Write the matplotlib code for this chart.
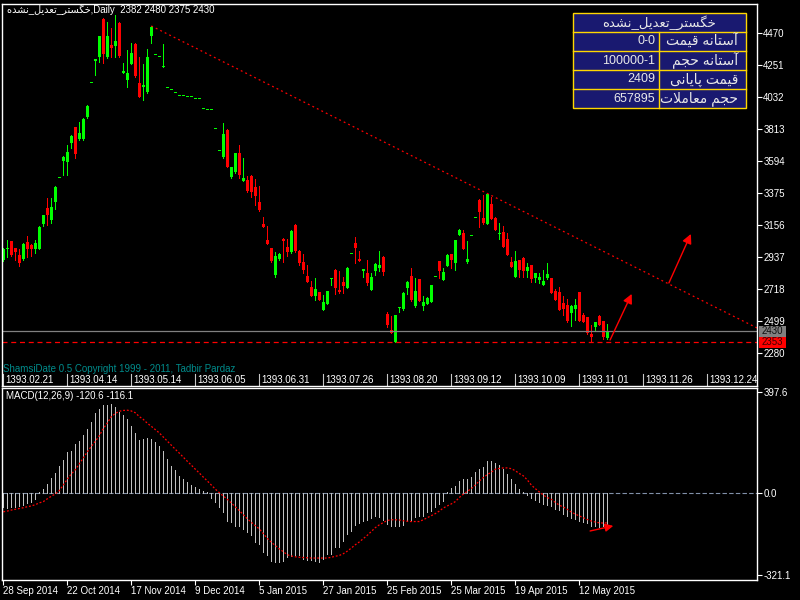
import matplotlib
matplotlib.use('Agg')
import matplotlib.pyplot as plt
from matplotlib.patches import Rectangle
from matplotlib.transforms import blended_transform_factory
import numpy as np

plt.rcParams['font.family'] = ['Liberation Sans', 'DejaVu Sans']

# ---- data ----
symbol = 'خگستر_تعدیل_نشده'
title_ohlc = '2382 2480 2375 2430'

opens = [2917, 2990, 3047, 2999, 2952, 2925, 3040, 3020, 2993, 2993,
         3164, 3273, 3191, 3314, 3478, 3594, 3587, 3718, 3827, 3745,
         3745, 3896, 4128, 4275, 4306, 4566, 4306, 4388, 4381, 4538,
         4196, 4149, 4258, 4395, 4128, 4101, 4067, 4449, 4320, 4306,
         4238, 4094, 4080, 4060, 4039, 4039, 4032, 4032, 4019, 4019,
         3950, 3943, 3943, 3813, 3663, 3622, 3807, 3485, 3519, 3649,
         3458, 3465, 3492, 3417, 3314, 3164, 3054, 2999, 2815, 2925,
         3063, 3006, 2972, 3157, 2979, 2904, 2808, 2733, 2671, 2698,
         2575, 2617, 2785, 2849, 2712, 2767, 2726, 2958, 3034, 2924,
         2845, 2828, 2712, 2842, 2863, 2938, 2548, 2439, 2357, 2590,
         2582, 2726, 2808, 2603, 2787, 2603, 2617, 2630, 2801, 2910,
         2781, 2876, 2958, 2897, 3088, 3102, 2904, 3082, 3205, 3328,
         3205, 3164, 3300, 3205, 3095, 3109, 3061, 2904, 2801, 2917,
         2931, 2842, 2883, 2794, 2781, 2746, 2794, 2794, 2705, 2698,
         2623, 2610, 2555, 2582, 2698, 2541, 2527, 2411, 2459, 2534,
         2500, 2382]
highs = [3000, 3054, 3050, 3000, 2993, 3030, 3081, 3025, 3054, 3147,
         3228, 3341, 3341, 3420, 3478, 3625, 3704, 3770, 3830, 3861,
         3885, 3975, 4128, 4292, 4452, 4573, 4545, 4504, 4593, 4545,
         4265, 4354, 4402, 4400, 4306, 4258, 4361, 4518, 4320, 4306,
         4395, 4094, 4080, 4060, 4039, 4039, 4032, 4032, 4019, 4019,
         3950, 3943, 3943, 3813, 3663, 3854, 3810, 3556, 3652, 3704,
         3615, 3492, 3495, 3471, 3423, 3211, 3150, 3002, 2972, 2962,
         3065, 3061, 3119, 3160, 2982, 2958, 2883, 2774, 2794, 2700,
         2678, 2708, 2792, 2852, 2842, 2801, 2866, 2958, 3075, 2979,
         2854, 2917, 2828, 2893, 2979, 2941, 2562, 2534, 2544, 2598,
         2695, 2770, 2863, 2794, 2790, 2671, 2661, 2749, 2801, 2913,
         2863, 2955, 2961, 3057, 3129, 3123, 3047, 3082, 3205, 3331,
         3362, 3372, 3348, 3208, 3170, 3150, 3102, 2938, 2979, 2920,
         2934, 2897, 2886, 2831, 2828, 2849, 2897, 2797, 2719, 2733,
         2671, 2651, 2606, 2651, 2701, 2555, 2530, 2473, 2496, 2541,
         2503, 2480]
lows = [2910, 2938, 2945, 2917, 2876, 2920, 2938, 2945, 2965, 2990,
        3150, 3157, 3170, 3266, 3478, 3499, 3499, 3684, 3615, 3738,
        3740, 3890, 4128, 4183, 4272, 4265, 4300, 4306, 4306, 4306,
        4194, 4101, 4255, 4170, 4030, 4012, 4060, 4402, 4320, 4306,
        4235, 4094, 4080, 4060, 4039, 4039, 4032, 4032, 4019, 4019,
        3950, 3943, 3943, 3813, 3663, 3615, 3550, 3480, 3515, 3478,
        3455, 3385, 3348, 3294, 3255, 3140, 3024, 2905, 2801, 2917,
        2904, 2945, 2968, 2975, 2883, 2828, 2764, 2668, 2644, 2640,
        2572, 2614, 2746, 2685, 2692, 2692, 2722, 2958, 2897, 2908,
        2801, 2746, 2709, 2815, 2842, 2815, 2459, 2416, 2353, 2562,
        2578, 2685, 2637, 2596, 2634, 2575, 2614, 2627, 2801, 2794,
        2778, 2873, 2863, 2849, 3085, 2990, 2897, 3082, 3205, 3143,
        3164, 3160, 3195, 3120, 3061, 3003, 2948, 2866, 2798, 2801,
        2801, 2801, 2767, 2767, 2760, 2743, 2790, 2688, 2640, 2572,
        2541, 2493, 2466, 2507, 2497, 2490, 2414, 2353, 2439, 2470,
        2377, 2375]
closes = [2993, 3000, 2952, 2972, 2897, 3027, 2993, 2993, 3034, 3143,
          3225, 3225, 3280, 3417, 3478, 3622, 3656, 3766, 3642, 3786,
          3882, 3971, 4128, 4290, 4449, 4326, 4449, 4367, 4415, 4313,
          4210, 4197, 4333, 4176, 4032, 4114, 4306, 4511, 4320, 4306,
          4245, 4094, 4080, 4060, 4039, 4039, 4032, 4032, 4019, 4019,
          3950, 3943, 3943, 3813, 3663, 3779, 3553, 3553, 3649, 3499,
          3478, 3389, 3383, 3355, 3259, 3143, 3027, 2910, 2945, 2959,
          3050, 2972, 3116, 2979, 2897, 2849, 2767, 2671, 2719, 2644,
          2630, 2705, 2790, 2726, 2698, 2740, 2863, 2958, 2999, 2910,
          2852, 2760, 2801, 2890, 2883, 2835, 2473, 2418, 2541, 2596,
          2692, 2767, 2644, 2705, 2637, 2630, 2658, 2746, 2801, 2842,
          2835, 2952, 2917, 3054, 3123, 2993, 2924, 3082, 3205, 3246,
          3170, 3369, 3198, 3123, 3102, 3006, 2952, 2870, 2910, 2849,
          2842, 2870, 2787, 2828, 2801, 2774, 2822, 2692, 2644, 2575,
          2582, 2500, 2603, 2610, 2500, 2493, 2418, 2391, 2493, 2473,
          2391, 2430]

macd_hist = [-56, -58, -56, -53, -52, -47, -40, -36, -23, 5,
             18, 35, 61, 81, 107, 129, 161, 165, 191, 204,
             226, 250, 278, 315, 328, 347, 347, 351, 338, 319,
             308, 291, 265, 237, 208, 211, 217, 211, 200, 185,
             165, 133, 107, 91, 68, 55, 44, 31, 26, 16,
             8, 3, -17, -36, -56, -73, -108, -114, -127, -127,
             -140, -153, -162, -192, -199, -229, -244, -264, -270, -268,
             -265, -251, -247, -244, -244, -257, -261, -261, -264, -268,
             -257, -240, -238, -212, -212, -186, -160, -147, -125, -117,
             -108, -104, -99, -88, -95, -104, -121, -127, -127, -127,
             -124, -108, -104, -95, -88, -88, -75, -69, -56, -43,
             -30, 3, 22, 29, 48, 57, 55, 64, 83, 96,
             103, 126, 126, 117, 109, 94, 74, 55, 35, 16,
             5, -8, -20, -26, -34, -43, -47, -52, -62, -66,
             -82, -88, -99, -101, -108, -112, -117, -130, -127, -134,
             -130, -120.6]
macd_signal = [-73, -70, -66, -63, -60, -57, -53, -50, -45, -38,
               -33, -22, -12, -3, 10, 32, 55, 75, 92, 115,
               138, 162, 183, 203, 225, 253, 275, 300, 312, 321,
               324, 325, 322, 315, 300, 289, 274, 262, 249, 236,
               220, 204, 188, 172, 157, 141, 125, 110, 94, 79,
               63, 48, 32, 16, 2, -11, -24, -38, -53, -68,
               -84, -100, -114, -127, -140, -158, -177, -192, -205, -218,
               -229, -241, -246, -249, -251, -252, -253, -254, -254, -254,
               -254, -254, -251, -247, -244, -237, -227, -215, -202, -191,
               -178, -165, -150, -135, -124, -115, -107, -104, -104, -105,
               -108, -110, -111, -111, -111, -104, -96, -88, -80, -70,
               -58, -50, -42, -33, -17, -4, 7, 18, 32, 48,
               61, 73, 82, 94, 97, 99, 99, 96, 88, 77,
               68, 52, 32, 18, 5, -7, -17, -24, -36, -47,
               -54, -63, -74, -82, -89, -96, -103, -109, -113, -116,
               -117, -116.1]

price_ticks = [4470, 4251, 4032, 3813, 3594, 3375, 3156, 2937, 2718, 2499, 2280]
macd_ticks = [397.6, 0.0, -321.1]
bid_price = 2430
support_price = 2353
trend_x = [37, 121]
trend_y = [4518, 3372]
arrows_price = [((151.7, 2370), (157.1, 2685)), ((166.4, 2760), (171.9, 3095))]
arrow_macd = ((146.7, -148), (152.5, -128))

shamsi_labels = ['1393.02.21', '1393.04.14', '1393.05.14', '1393.06.05', '1393.06.31',
                 '1393.07.26', '1393.08.20', '1393.09.12', '1393.10.09', '1393.11.01',
                 '1393.11.26', '1393.12.24']
date_labels = ['28 Sep 2014', '22 Oct 2014', '17 Nov 2014', '9 Dec 2014', '5 Jan 2015',
               '27 Jan 2015', '25 Feb 2015', '25 Mar 2015', '19 Apr 2015', '12 May 2015']
label_step = 16

table_labels = ['آستانه قیمت', 'آستانه حجم', 'قیمت پایانی', 'حجم معاملات']
table_values = ['0-0', '100000-1', '2409', '657895']

# ---- minimal Persian shaping (contextual forms + right-to-left order) ----
FORMS = {
    'ا': (0xFE8D, 0xFE8E, None, None), 'آ': (0xFE81, 0xFE82, None, None),
    'د': (0xFEA9, 0xFEAA, None, None), 'ر': (0xFEAD, 0xFEAE, None, None),
    'پ': (0xFB56, 0xFB57, 0xFB58, 0xFB59), 'ت': (0xFE95, 0xFE96, 0xFE97, 0xFE98),
    'ج': (0xFE9D, 0xFE9E, 0xFE9F, 0xFEA0), 'ح': (0xFEA1, 0xFEA2, 0xFEA3, 0xFEA4),
    'خ': (0xFEA5, 0xFEA6, 0xFEA7, 0xFEA8), 'س': (0xFEB1, 0xFEB2, 0xFEB3, 0xFEB4),
    'ش': (0xFEB5, 0xFEB6, 0xFEB7, 0xFEB8), 'ع': (0xFEC9, 0xFECA, 0xFECB, 0xFECC),
    'ق': (0xFED5, 0xFED6, 0xFED7, 0xFED8), 'گ': (0xFB92, 0xFB93, 0xFB94, 0xFB95),
    'ل': (0xFEDD, 0xFEDE, 0xFEDF, 0xFEE0), 'م': (0xFEE1, 0xFEE2, 0xFEE3, 0xFEE4),
    'ن': (0xFEE5, 0xFEE6, 0xFEE7, 0xFEE8), 'ه': (0xFEE9, 0xFEEA, 0xFEEB, 0xFEEC),
    'ی': (0xFBFC, 0xFBFD, 0xFBFE, 0xFBFF),
}
LAM_ALEF = {'ا': (0xFEFB, 0xFEFC), 'آ': (0xFEF5, 0xFEF6)}


def shape(text):
    out = []
    k = 0
    while k < len(text):
        c = text[k]
        prev = text[k - 1] if k > 0 else ''
        nxt = text[k + 1] if k + 1 < len(text) else ''
        if c not in FORMS:
            out.append(c)
            k += 1
            continue
        con_prev = prev in FORMS and FORMS[prev][2] is not None
        if c == 'ل' and nxt in LAM_ALEF:
            out.append(chr(LAM_ALEF[nxt][1] if con_prev else LAM_ALEF[nxt][0]))
            k += 2
            continue
        iso, fin, ini, med = FORMS[c]
        con_next = ini is not None and nxt in FORMS
        if con_prev and con_next:
            g = med
        elif con_prev:
            g = fin
        elif con_next:
            g = ini
        else:
            g = iso
        out.append(chr(g))
        k += 1
    return ''.join(reversed(out))


def fpos(x, y):
    # pixel position (from top-left) -> figure fraction
    return x / 800, 1 - y / 600


# ---- figure ----
W, H = 800, 600
fig = plt.figure(figsize=(8, 6), dpi=100, facecolor='black')
ax1 = fig.add_axes([2 / W, 1 - 386 / H, 755 / W, 382 / H], facecolor='black')
ax2 = fig.add_axes([2 / W, 1 - 580 / H, 755 / W, 192 / H], facecolor='black')

n = len(closes)
x = np.arange(n)
o = np.array(opens, float)
h = np.array(highs, float)
l = np.array(lows, float)
c = np.array(closes, float)
up = c >= o
cols = np.where(up, '#00ff00', '#ff0000')

xmin, xmax = -0.325, 188.425
for ax in (ax1, ax2):
    ax.set_xlim(xmin, xmax)
    for s in ax.spines.values():
        s.set_color('white')
        s.set_linewidth(1)
ax1.set_ylim(2055, 4668)
ax2.set_ylim(-340, 412)

# candles
ax1.vlines(x, l, h, colors=cols, linewidth=0.6, antialiased=False)
body_low = np.minimum(o, c)
body_h = np.maximum(np.abs(c - o), 6)
ax1.bar(x, body_h, bottom=body_low, width=0.72, color=cols, linewidth=0, antialiased=False)

# horizontal levels
ax1.axhline(bid_price, color='#808080', linewidth=0.9)
ax1.axhline(support_price, color='#ff0000', linewidth=0.9, linestyle=(0, (4, 3)))

# trend line extended to the right edge
slope = (trend_y[1] - trend_y[0]) / (trend_x[1] - trend_x[0])
tx = np.array([trend_x[0], xmax])
ax1.plot(tx, trend_y[0] + slope * (tx - trend_x[0]), color='#ff0000',
         linewidth=0.9, linestyle=(0, (1.5, 2.5)))

for start, end in arrows_price:
    ax1.annotate('', xy=end, xytext=start,
                 arrowprops=dict(arrowstyle='-|>', color='#ff0000', lw=1.0,
                                 mutation_scale=14, shrinkA=0, shrinkB=0))

# right price axis
ax1.yaxis.tick_right()
ax1.set_yticks(price_ticks)
ax1.set_yticklabels([str(p) for p in price_ticks])
ax1.tick_params(axis='y', colors='white', length=3.5, width=0.8, labelsize=7, pad=1)
ax1.tick_params(axis='x', bottom=False, labelbottom=False)

# price boxes on the axis
bt = blended_transform_factory(ax1.transAxes, ax1.transData)
for price, fc, tc in [(bid_price, '#808080', '#101010'), (support_price, '#ff0000', '#3a0000')]:
    ax1.add_patch(Rectangle((1.0027, price - 37), 27 / 755, 75, transform=bt,
                            facecolor=fc, edgecolor='none', clip_on=False))
    ax1.text(1.0055, price, str(price), transform=bt, color=tc, fontsize=7,
             va='center', ha='left', clip_on=False)

# Shamsi date row inside the price panel
bt_ax = blended_transform_factory(ax1.transData, ax1.transAxes)
for k, lab in enumerate(shamsi_labels):
    xi = k * label_step - 0.1
    ax1.plot([xi, xi], [0.003, 0.031], transform=bt_ax, color='#c8c8c8', linewidth=0.8, clip_on=False)
    ax1.text(xi + 0.5, 0.017, lab, transform=bt_ax, color='white', fontsize=7,
             va='center', ha='left')
ax1.text(1 / 755, 0.045, 'ShamsiDate 0.5 Copyright 1999 - 2011, Tadbir Pardaz',
         transform=ax1.transAxes, color='#008b8b', fontsize=7, va='center', ha='left')

# title
fig.text(*fpos(7, 10), shape(symbol) + ',Daily  ' + title_ohlc, color='white',
         fontsize=7, va='center', ha='left')

# info table (top right)
tx0, tx1, tcol = 573, 746, 659
rows_y = [13, 32, 51, 70, 89, 108]
x0f, y0f = fpos(tx0, rows_y[-1])
fig.add_artist(Rectangle((x0f, y0f), (tx1 - tx0) / W, (rows_y[-1] - rows_y[0]) / H,
                         transform=fig.transFigure, facecolor='#191970',
                         edgecolor='#ffd700', linewidth=1))
for yy in rows_y[1:-1]:
    fig.add_artist(plt.Line2D([tx0 / W, tx1 / W], [1 - yy / H] * 2, transform=fig.transFigure,
                              color='#ffd700', linewidth=1))
fig.add_artist(plt.Line2D([tcol / W] * 2, [1 - rows_y[1] / H, 1 - rows_y[-1] / H],
                          transform=fig.transFigure, color='#ffd700', linewidth=1))
fig.text(*fpos((tx0 + tx1) / 2, (rows_y[0] + rows_y[1]) / 2), shape(symbol),
         color='#e8e8e8', fontsize=9.5, va='center', ha='center')
for k, (lab, val) in enumerate(zip(table_labels, table_values)):
    yc = (rows_y[k + 1] + rows_y[k + 2]) / 2
    fig.text(*fpos(tcol - 4, yc), val, color='#e8e8e8', fontsize=9, va='center', ha='right')
    fig.text(*fpos(tx1 - 8, yc), shape(lab), color='#e8e8e8', fontsize=10,
             va='center', ha='right')

# ---- MACD panel ----
ax2.axhline(0, color='#8090a8', linewidth=0.8, linestyle=(0, (4, 2)))
ax2.vlines(x, 0, macd_hist, colors='#c0c0c0', linewidth=0.5, antialiased=False)
ax2.plot(x, macd_signal, color='#ff0000', linewidth=0.9, linestyle=(0, (1.5, 1.5)))
ax2.annotate('', xy=arrow_macd[1], xytext=arrow_macd[0],
             arrowprops=dict(arrowstyle='-|>', color='#ff0000', lw=1.0,
                             mutation_scale=12, shrinkA=0, shrinkB=0))
ax2.text(4 / 755, 0.96, 'MACD(12,26,9) %.1f %.1f' % (macd_hist[-1], macd_signal[-1]),
         transform=ax2.transAxes, color='white', fontsize=7, va='center', ha='left')

ax2.yaxis.tick_right()
ax2.set_yticks(macd_ticks)
ax2.set_yticklabels(['%.1f' % v for v in macd_ticks])
ax2.tick_params(axis='y', colors='white', length=3.5, width=0.8, labelsize=7, pad=1)

xt = [k * label_step - 0.15 for k in range(len(date_labels))]
ax2.set_xticks(xt)
ax2.set_xticklabels(date_labels, ha='left')
ax2.tick_params(axis='x', colors='white', length=3.5, width=0.8, labelsize=7, pad=1)

fig.savefig('out.png', dpi=100, facecolor='black')
